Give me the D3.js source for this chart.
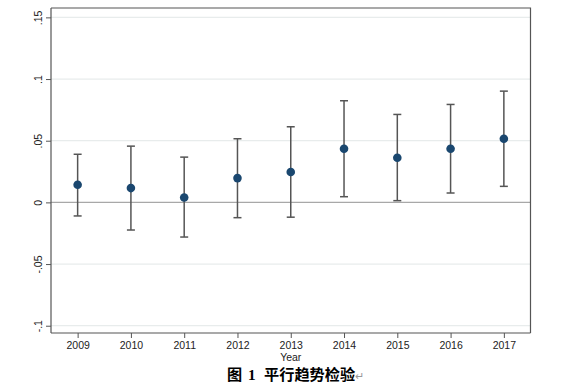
<!DOCTYPE html>
<html><head><meta charset="utf-8">
<script src="https://cdn.jsdelivr.net/npm/d3@7"></script>
<style>body{margin:0;background:#fff}svg{display:block}</style>
</head><body>
<script>
const years = [2009, 2010, 2011, 2012, 2013, 2014, 2015, 2016, 2017];
const coef  = [0.0143, 0.0116, 0.0040, 0.0197, 0.0246, 0.0435, 0.0362, 0.0435, 0.0516];
const lower = [-0.0110, -0.0224, -0.0281, -0.0124, -0.0120, 0.0046, 0.0014, 0.0076, 0.0130];
const upper = [0.0390, 0.0456, 0.0367, 0.0516, 0.0613, 0.0824, 0.0713, 0.0794, 0.0902];
const yTicks = [-0.1, -0.05, 0, 0.05, 0.1, 0.15];
const yTickLabels = ["-.1", "-.05", "0", ".05", ".1", ".15"];
const xTitle = "Year";
const captionParts = ["图", "1", "平行趋势检验"];

const W = 576, H = 391;
const L = 51, R = 530.5, T = 8, B = 333;
const svg = d3.select("body").append("svg").attr("width", W).attr("height", H);

const x = d3.scaleLinear().domain([2008.5, 2017.5]).range([L, R]);
const y = d3.scaleLinear().domain([-0.1059, 0.1576]).range([B, T]);

// gridlines
svg.append("g").selectAll("line").data(yTicks.filter(d => d !== 0)).join("line")
  .attr("x1", L).attr("x2", R).attr("y1", d => y(d)).attr("y2", d => y(d))
  .attr("stroke", "#e8ecec").attr("stroke-width", 1.2);
// zero line
svg.append("line").attr("x1", L).attr("x2", R).attr("y1", y(0)).attr("y2", y(0))
  .attr("stroke", "#a8a8a8").attr("stroke-width", 1.3);

// frame top/right
svg.append("path").attr("d", `M${L},${T}H${R}V${B}`).attr("fill", "none")
  .attr("stroke", "#555").attr("stroke-width", 1.2);

// y axis
const yAxis = svg.append("g").attr("transform", `translate(${L},0)`)
  .call(d3.axisLeft(y).tickValues(yTicks).tickSize(5).tickFormat((d, i) => yTickLabels[i]));
yAxis.select(".domain").attr("stroke", "#555").attr("stroke-width", 1.2)
  .attr("d", `M0,${T}V${B}`);
yAxis.selectAll(".tick line").attr("stroke", "#555");
yAxis.selectAll(".tick text")
  .attr("x", 0).attr("dy", 0)
  .attr("transform", "translate(-9,0) rotate(-90)")
  .attr("text-anchor", "middle")
  .attr("font-family", "Liberation Sans, Arial, sans-serif").attr("font-size", 10.5).attr("fill", "#222");

// x axis
const xAxis = svg.append("g").attr("transform", `translate(0,${B})`)
  .call(d3.axisBottom(x).tickValues(years).tickSize(5).tickFormat(d3.format("d")));
xAxis.select(".domain").attr("stroke", "#555").attr("stroke-width", 1.2)
  .attr("d", `M${L},0H${R}`);
xAxis.selectAll(".tick line").attr("stroke", "#555");
xAxis.selectAll(".tick text").attr("y", 9)
  .attr("font-family", "Liberation Sans, Arial, sans-serif").attr("font-size", 10.5).attr("fill", "#222");

svg.append("text").attr("x", x(2013)).attr("y", 361).attr("text-anchor", "middle")
  .attr("font-family", "Liberation Sans, Arial, sans-serif").attr("font-size", 10.5).attr("fill", "#222")
  .text(xTitle);

// error bars
const data = years.map((yr, i) => ({yr, c: coef[i], lo: lower[i], hi: upper[i]}));
const eb = svg.append("g").attr("stroke", "#555").attr("stroke-width", 1.5);
eb.selectAll("line.v").data(data).join("line").attr("class", "v")
  .attr("x1", d => x(d.yr)).attr("x2", d => x(d.yr)).attr("y1", d => y(d.lo)).attr("y2", d => y(d.hi));
eb.selectAll("line.h").data(data).join("line").attr("class", "h")
  .attr("x1", d => x(d.yr) - 4).attr("x2", d => x(d.yr) + 4).attr("y1", d => y(d.hi)).attr("y2", d => y(d.hi));
eb.selectAll("line.l").data(data).join("line").attr("class", "l")
  .attr("x1", d => x(d.yr) - 4).attr("x2", d => x(d.yr) + 4).attr("y1", d => y(d.lo)).attr("y2", d => y(d.lo));

svg.append("g").selectAll("circle").data(data).join("circle")
  .attr("cx", d => x(d.yr)).attr("cy", d => y(d.c)).attr("r", 4.3).attr("fill", "#1a476f");

// caption
const cap = svg.append("text").attr("y", 380)
  .attr("font-family", "Liberation Serif, Noto Sans CJK SC, serif").attr("font-weight", "bold")
  .attr("font-size", 15.2).attr("fill", "#000");
cap.append("tspan").attr("x", 227).text(captionParts[0]);
cap.append("tspan").attr("x", 248).text(captionParts[1]);
cap.append("tspan").attr("x", 264).text(captionParts[2]);
cap.append("tspan").attr("font-weight", "normal").attr("font-size", 11).attr("fill", "#999").text("↵");
</script>
</body></html>
